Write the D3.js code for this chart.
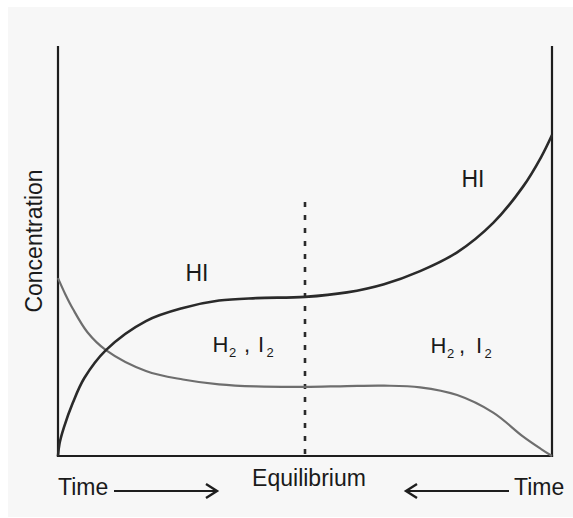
<!DOCTYPE html>
<html>
<head>
<meta charset="utf-8">
<script src="https://cdn.jsdelivr.net/npm/d3@7"></script>
<style>
  body { margin: 0; background: #ffffff; }
  text { font-family: "Liberation Sans", Arial, sans-serif; fill: #1a1a1a; }
</style>
</head>
<body>
<div id="chart"></div>
<script>
// time runs 0..10, concentration 0..10 (arbitrary units)
const hiTime = [0, 0.03, 0.12, 0.3, 0.53, 0.97, 1.78, 2.53, 3.26, 4.01, 5.0, 5.85, 6.6, 7.33, 8.08, 8.81, 9.41, 9.78, 10]
const hiConc = [0, 0.3, 0.7, 1.3, 1.9, 2.59, 3.30, 3.62, 3.80, 3.86, 3.89, 4.00, 4.20, 4.52, 4.98, 5.70, 6.58, 7.31, 7.85]

const h2Time = [0, 0.15, 0.3, 0.6, 0.97, 1.78, 2.53, 3.26, 4.01, 5.0, 5.85, 6.6, 7.33, 8.08, 8.81, 9.41, 9.78, 10]
const h2Conc = [4.35, 3.95, 3.60, 3.02, 2.59, 2.08, 1.87, 1.75, 1.70, 1.69, 1.71, 1.72, 1.68, 1.49, 1.06, 0.48, 0.17, 0]

const equilibriumTime = 5
const equilibriumTop = 6.21

var width = 573, height = 518;

var svg = d3.select("#chart")
  .append("svg")
    .attr("width", width)
    .attr("height", height);

// light panel behind everything
svg.append("rect")
  .attr("x", 8).attr("y", 7)
  .attr("width", 565).attr("height", 510)
  .attr("fill", "#f7f7f7");

var x = d3.scaleLinear().domain([0, 10]).range([58, 552]);
var y = d3.scaleLinear().domain([0, 10]).range([456, 47]);

// frame: left, right and bottom
var frame = [
  [[0, 10], [0, 0]],
  [[10, 10], [10, 0]],
  [[0, 0], [10, 0]]
];
svg.selectAll("line.frame")
  .data(frame)
  .enter()
  .append("line")
    .attr("class", "frame")
    .attr("x1", d => x(d[0][0]))
    .attr("y1", d => y(d[0][1]))
    .attr("x2", d => x(d[1][0]))
    .attr("y2", d => y(d[1][1]))
    .attr("stroke", "#1e1e1e")
    .attr("stroke-width", 2.2)
    .attr("stroke-linecap", "square");

// equilibrium marker
svg.append("line")
  .attr("x1", x(equilibriumTime)).attr("x2", x(equilibriumTime))
  .attr("y1", y(equilibriumTop)).attr("y2", y(0))
  .attr("stroke", "#2a2a2a")
  .attr("stroke-width", 2.6)
  .attr("stroke-dasharray", "5,8");

var line = d3.line()
  .x(d => x(d[0]))
  .y(d => y(d[1]))
  .curve(d3.curveCatmullRom.alpha(0.5));

svg.append("path")
  .datum(d3.zip(h2Time, h2Conc))
  .attr("d", line)
  .attr("fill", "none")
  .attr("stroke", "#6e6e6e")
  .attr("stroke-width", 2.2);

svg.append("path")
  .datum(d3.zip(hiTime, hiConc))
  .attr("d", line)
  .attr("fill", "none")
  .attr("stroke", "#2a2a2a")
  .attr("stroke-width", 2.6);

// labels
svg.append("text")
  .attr("transform", "translate(42,241) rotate(-90)")
  .attr("text-anchor", "middle")
  .attr("font-size", 23)
  .text("Concentration");

svg.append("text").attr("x", 185.5).attr("y", 281).attr("font-size", 23).text("HI");
svg.append("text").attr("x", 461.5).attr("y", 187).attr("font-size", 23).text("HI");

// H2 , I2 labels built from pieces
function species(x0, y0, offs) {
  var parts = [
    {t: "H", dx: 0, sub: false},
    {t: "2", dx: offs[0], sub: true},
    {t: ",", dx: offs[1], sub: false},
    {t: "I", dx: offs[2], sub: false},
    {t: "2", dx: offs[3], sub: true}
  ];
  svg.selectAll(null)
    .data(parts)
    .enter()
    .append("text")
      .attr("x", d => x0 + d.dx)
      .attr("y", d => d.sub ? y0 + 5 : y0)
      .attr("font-size", d => d.sub ? 13 : 22)
      .text(d => d.t);
}
species(212.5, 352, [16.5, 31.5, 45.5, 54]);
species(430.5, 353, [16.5, 28.5, 45.5, 54]);

svg.append("text").attr("x", 309).attr("y", 486).attr("text-anchor", "middle")
  .attr("font-size", 23).text("Equilibrium");
svg.append("text").attr("x", 58).attr("y", 495).attr("font-size", 23).text("Time");
svg.append("text").attr("x", 514).attr("y", 495).attr("font-size", 23).text("Time");

// time arrows
var arrows = [
  {from: 114, to: 217},
  {from: 509, to: 406}
];
arrows.forEach(function(a) {
  var dir = a.to > a.from ? 1 : -1;
  svg.append("line")
    .attr("x1", a.from).attr("x2", a.to)
    .attr("y1", 491).attr("y2", 491)
    .attr("stroke", "#1e1e1e").attr("stroke-width", 2.2);
  svg.append("path")
    .attr("d", "M" + (a.to - dir * 11) + ",484 L" + a.to + ",491 L" + (a.to - dir * 11) + ",498")
    .attr("fill", "none")
    .attr("stroke", "#1e1e1e").attr("stroke-width", 2.4);
});
</script>
</body>
</html>
